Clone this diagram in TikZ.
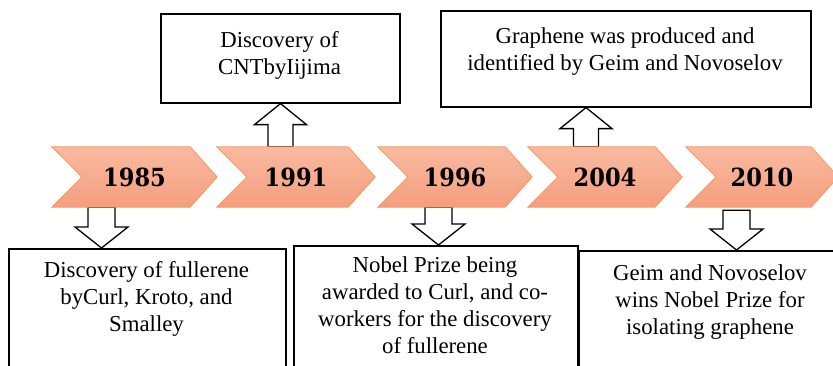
\documentclass[tikz,border=0pt]{standalone}
\usepackage{fontspec}
\setmainfont{Liberation Serif}
\newfontfamily\yearfont{DejaVu Serif}
\usetikzlibrary{calc}
\definecolor{chevtop}{RGB}{249,186,160}
\definecolor{chevbot}{RGB}{244,158,126}
\definecolor{chevline}{RGB}{247,150,90}
\tikzset{
  chevbody/.style={draw=none, inner sep=0pt, minimum height=60pt},
  chevshape/.style={draw=chevline, line width=0.8pt, top color=chevtop, bottom color=chevbot},
  yeartext/.style={inner sep=0pt, font=\yearfont\bfseries\fontsize{25}{28}\selectfont},
  boxframe/.style={draw=black, line width=1.6pt, fill=white, inner sep=0pt},
  boxtext/.style={align=center, inner sep=0pt, font=\fontsize{22.8}{27}\selectfont},
  barrow/.style={draw=black, line width=1.3pt, fill=white, line join=miter}
}
\newcommand{\chev}[1]{%
  \path[chevshape] (#1.north west) -- ([xshift=-27pt]#1.north east) -- (#1.east)
    -- ([xshift=-27pt]#1.south east) -- (#1.south west) -- ([xshift=30pt]#1.west) -- cycle;}
\begin{document}
\begin{tikzpicture}[x=1pt,y=-1pt]
\useasboundingbox (0,0) rectangle (833,365);
% chevron anchors (invisible body nodes)
\node[chevbody, minimum width=165pt] (c1) at (134.5,177) {};
\node[chevbody, minimum width=158pt] (c2) at (296,177) {};
\node[chevbody, minimum width=154pt] (c3) at (455,177) {};
\node[chevbody, minimum width=154pt] (c4) at (605,177) {};
\node[chevbody, minimum width=152pt] (c5) at (762,177) {};
% boxes
\node[boxframe, minimum width=277pt, minimum height=130pt, anchor=north west] (b1) at (8,248) {};
\node[boxframe, minimum width=284pt, minimum height=130pt, anchor=north west] (b2) at (293,245) {};
\node[boxframe, minimum width=267pt, minimum height=130pt, anchor=north west] (b3) at (578,250) {};
\node[boxframe, minimum width=239pt, minimum height=89pt, anchor=north west] (ba) at (160,13) {};
\node[boxframe, minimum width=370pt, minimum height=96pt, anchor=north west] (bb) at (440,10) {};
% arrow tips on the boxes
\coordinate (t1) at (b1.north -| 101.5,0);
\coordinate (t2) at (ba.south -| 280.5,0);
\coordinate (t3) at (b2.north -| 438.5,0);
\coordinate (t4) at (bb.south -| 586,0);
\coordinate (t5) at (b3.north -| 736.5,0);
\coordinate (s1) at (c1.south -| t1);
\coordinate (s2) at (c2.north -| t2);
\coordinate (s3) at (c3.south -| t3);
\coordinate (s4) at (c4.north -| t4);
\coordinate (s5) at ([yshift=-3pt]c5.south -| t5);
% block arrows: down
\foreach \s/\t in {s1/t1, s3/t3, s5/t5}{
  \draw[barrow] let \p1=(\s), \p2=(\t) in
    (\x1-13.5pt,\y1) -- (\x1+13.5pt,\y1) -- (\x1+13.5pt,\y2+21pt) -- (\x1+26.5pt,\y2+21pt)
    -- (\x2,\y2) -- (\x1-26.5pt,\y2+21pt) -- (\x1-13.5pt,\y2+21pt) -- cycle;
}
% block arrows: up
\foreach \s/\t in {s2/t2, s4/t4}{
  \draw[barrow] let \p1=(\s), \p2=(\t) in
    (\x1-12.5pt,\y1) -- (\x1+12.5pt,\y1) -- (\x1+12.5pt,\y2-21pt) -- (\x1+26pt,\y2-21pt)
    -- (\x2,\y2) -- (\x1-26pt,\y2-21pt) -- (\x1-12.5pt,\y2-21pt) -- cycle;
}
% chevrons drawn over arrow ends
\chev{c1}\chev{c2}\chev{c3}\chev{c4}\chev{c5}
\node[yeartext] (y1) at (c1.center) {\scalebox{0.9}[1]{1985}};
\node[yeartext] (y2) at (c2.center) {\scalebox{0.9}[1]{1991}};
\node[yeartext] (y3) at (c3.center) {\scalebox{0.9}[1]{1996}};
\node[yeartext] (y4) at (c4.center) {\scalebox{0.9}[1]{2004}};
\node[yeartext] (y5) at (c5.center) {\scalebox{0.9}[1]{2010}};
% texts
\node[boxtext] (x1) at (146.5,298.5) {Discovery of fullerene\\byCurl, Kroto, and\\Smalley};
\node[boxtext] (x2) at (435,305) {Nobel Prize being\\awarded to Curl, and co-\\workers for the discovery\\of fullerene};
\node[boxtext] (x3) at (710,302.5) {Geim and Novoselov\\wins Nobel Prize for\\isolating graphene};
\node[boxtext] (xa) at (279.5,55) {Discovery of\\CNTbyIijima};
\node[boxtext] (xb) at (625,51.5) {Graphene was produced and\\identified by Geim and Novoselov};
\end{tikzpicture}
\end{document}
